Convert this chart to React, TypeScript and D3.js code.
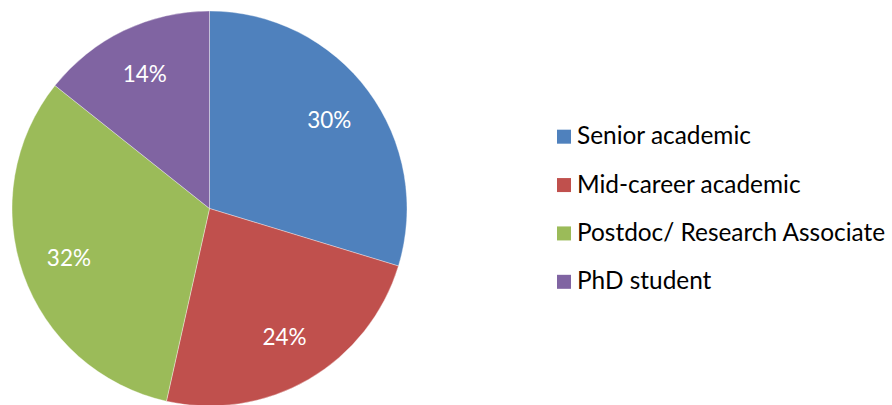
import React from "react";
import * as d3 from "d3";

const categories = ["Senior academic", "Mid-career academic", "Postdoc/ Research Associate", "PhD student"];
const values = [29.7, 23.8, 32.2, 14.3];
const colors = ["#4F81BD", "#C0504D", "#9BBB59", "#8064A2"];

const W = 892;
const H = 405;
const cx = 209.5;
const cy = 208.5;
const R = 197.5;
const FONT = "Lato, 'Open Sans', sans-serif";

export default function App() {
  const total = d3.sum(values);
  const pie = d3.pie<number>().sort(null).value((d) => d);
  const arcs = pie(values);
  const arc = d3.arc<d3.PieArcDatum<number>>().innerRadius(0).outerRadius(R);
  const labelArc = d3.arc<d3.PieArcDatum<number>>().innerRadius(R * 0.755).outerRadius(R * 0.755);
  const legendY = d3.scaleBand<number>().domain(d3.range(categories.length)).range([112.5, 306]);

  return (
    <svg width={W} height={H} style={{ position: "absolute", left: 0, top: 0, background: "#fff" }}>
      <g transform={`translate(${cx},${cy})`}>
        {arcs.map((a, i) => (
          <path key={i} d={arc(a) || ""} fill={colors[i]} stroke="#ffffff" strokeWidth={0.6} strokeOpacity={0.6} />
        ))}
        {arcs.map((a, i) => {
          const [x, y] = labelArc.centroid(a);
          return (
            <text key={"l" + i} x={x} y={y} dy="0.36em" textAnchor="middle" fill="#fff" fontFamily={FONT} fontSize={22.5}>
              {Math.round((values[i] / total) * 100) + "%"}
            </text>
          );
        })}
      </g>
      <g>
        {categories.map((c, i) => {
          const yc = (legendY(i) || 0) + legendY.bandwidth() / 2;
          return (
            <g key={c}>
              <rect x={557} y={yc - 7} width={14} height={14} fill={colors[i]} />
              <text x={577} y={yc + 7.5} fill="#000" fontFamily={FONT} fontSize={24.4}>
                {c}
              </text>
            </g>
          );
        })}
      </g>
    </svg>
  );
}
